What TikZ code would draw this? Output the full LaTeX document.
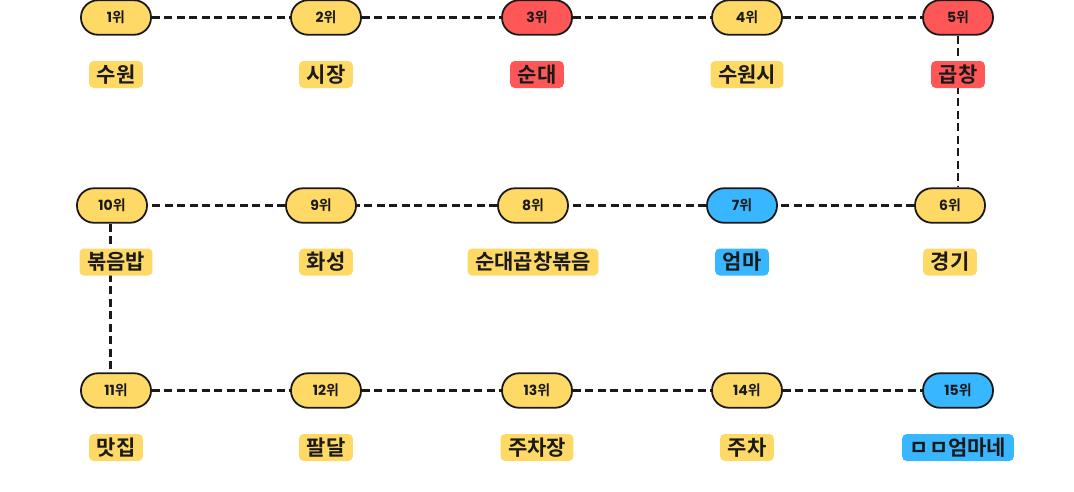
\documentclass[tikz,border=0pt]{standalone}
\usepackage{fontspec}
\newfontfamily\krfont{Noto Sans CJK KR}[BoldFont={Noto Sans CJK KR Bold}]
\newfontfamily\popfont{Poppins}
\definecolor{cyel}{HTML}{FFD966}
\definecolor{cred}{HTML}{FF5757}
\definecolor{cblue}{HTML}{38B6FF}
\definecolor{cink}{HTML}{1A1A1A}
\newcommand{\rk}[1]{{\popfont\bfseries #1}{\krfont\bfseries 위}}
\tikzset{
  pill/.style={draw=cink, line width=1.8pt, rounded corners=17pt, minimum width=70pt, minimum height=34.5pt, inner sep=0pt, text=cink, font=\fontsize{14}{14}\selectfont},
  tag/.style={rounded corners=4.5pt, inner xsep=7.5pt, inner ysep=0pt, minimum height=27pt, text=cink, font=\krfont\bfseries\fontsize{21}{21}\selectfont},
  link/.style={draw=cink, line width=2.5pt, dash pattern=on 8pt off 4.5pt},
}
\begin{document}
\begin{tikzpicture}[x=1pt,y=-1pt]
\useasboundingbox (0,0) rectangle (1074,491);
% rank pills
\node[pill, fill=cyel]  (p1)  at (116,17.5) {\rk{1}};
\node[pill, fill=cyel]  (p2)  at (326,17.5) {\rk{2}};
\node[pill, fill=cred]  (p3)  at (537,17.5) {\rk{3}};
\node[pill, fill=cyel]  (p4)  at (747,17.5) {\rk{4}};
\node[pill, fill=cred]  (p5)  at (958,17.5) {\rk{5}};
\node[pill, fill=cyel]  (p10) at (112,205.5) {\rk{10}};
\node[pill, fill=cyel]  (p9)  at (321,205.5) {\rk{9}};
\node[pill, fill=cyel]  (p8)  at (533,205.5) {\rk{8}};
\node[pill, fill=cblue] (p7)  at (742,205.5) {\rk{7}};
\node[pill, fill=cyel]  (p6)  at (950,205.5) {\rk{6}};
\node[pill, fill=cyel]  (p11) at (116,390.5) {\rk{11}};
\node[pill, fill=cyel]  (p12) at (326,390.5) {\rk{12}};
\node[pill, fill=cyel]  (p13) at (537,390.5) {\rk{13}};
\node[pill, fill=cyel]  (p14) at (747,390.5) {\rk{14}};
\node[pill, fill=cblue] (p15) at (958,390.5) {\rk{15}};
% connectors
\draw[link] (p1) -- (p2);
\draw[link] (p2) -- (p3);
\draw[link] (p3) -- (p4);
\draw[link] (p4) -- (p5);
\draw[link] (p5.south) -- (p5.south |- p6.north);
\draw[link] (p6) -- (p7);
\draw[link] (p7) -- (p8);
\draw[link] (p8) -- (p9);
\draw[link] (p9) -- (p10);
\coordinate (v10) at ([xshift=-1.5pt]p10.south);
\draw[link] (v10) -- (v10 |- p11.north);
\draw[link] (p11) -- (p12);
\draw[link] (p12) -- (p13);
\draw[link] (p13) -- (p14);
\draw[link] (p14) -- (p15);
% name tags
\node[tag, fill=cyel]  (t1)  at (116,74.5) {수원};
\node[tag, fill=cyel]  (t2)  at (326,74.5) {시장};
\node[tag, fill=cred]  (t3)  at (537,74.5) {순대};
\node[tag, fill=cyel]  (t4)  at (747,74.5) {수원시};
\node[tag, fill=cred]  (t5)  at (958,74.5) {곱창};
\node[tag, fill=cyel]  (t10) at (116,262) {볶음밥};
\node[tag, fill=cyel]  (t9)  at (326,262) {화성};
\node[tag, fill=cyel]  (t8)  at (533,262) {순대곱창볶음};
\node[tag, fill=cblue] (t7)  at (742,262) {엄마};
\node[tag, fill=cyel]  (t6)  at (950,262) {경기};
\node[tag, fill=cyel]  (t11) at (116,447.5) {맛집};
\node[tag, fill=cyel]  (t12) at (326,447.5) {팔달};
\node[tag, fill=cyel]  (t13) at (537,447.5) {주차장};
\node[tag, fill=cyel]  (t14) at (747,447.5) {주차};
\node[tag, fill=cblue] (t15) at (958,447.5) {ㅁㅁ엄마네};
\end{tikzpicture}
\end{document}
